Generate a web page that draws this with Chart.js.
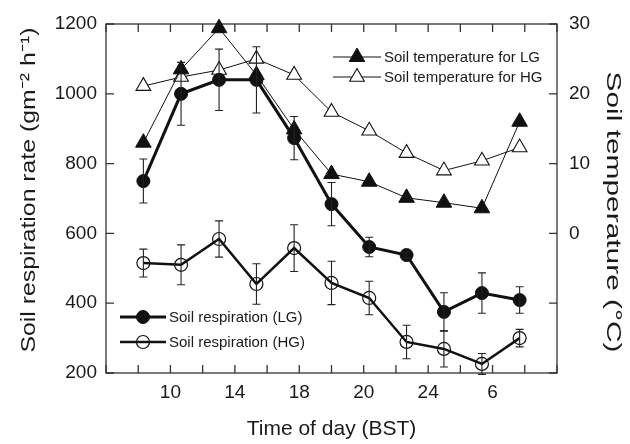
<!DOCTYPE html>
<html>
<head>
<meta charset="utf-8">
<script src="https://cdn.jsdelivr.net/npm/chart.js@4.4.1/dist/chart.umd.min.js"></script>
<style>
html, body { margin: 0; padding: 0; background: #fff; }
</style>
</head>
<body>
<canvas id="graph" width="630" height="444"></canvas>
<script>
// sampling times, in axis units (one unit = one minor tick)
const timePos = [1.16, 2.33, 3.51, 4.67, 5.84, 7.0, 8.17, 9.33, 10.49, 11.67, 12.84];
// labels of the bottom axis, one per minor tick
const xTickLabels = ['', '', '10', '', '14', '', '18', '', '20', '', '24', '', '6', '', ''];

// soil respiration (left axis) with +/- errors
const respLG = [750, 1000, 1040, 1040, 873, 684, 561, 538, 375, 429, 409];
const respLGErr = [63, 90, 88, 95, 62, 62, 28, 8, 55, 58, 38];
const respHG = [515, 510, 584, 455, 558, 458, 415, 289, 269, 226, 300];
const respHGErr = [40, 57, 52, 58, 67, 62, 48, 48, 52, 30, 25];

// soil temperature (right axis)
const tempLG = [13.0, 23.5, 29.4, 22.7, 14.9, 8.5, 7.4, 5.1, 4.4, 3.6, 16.0];
const tempHG = [21.1, 22.4, 23.4, 25.0, 22.7, 17.4, 14.7, 11.5, 9.0, 10.4, 12.3];

const FONT = '"Liberation Sans", Arial, Helvetica, sans-serif';
Chart.defaults.font.family = FONT;
Chart.defaults.color = '#1a1a1a';

function toPoints(ys) {
    return ys.map((y, i) => ({ x: timePos[i], y: y }));
}

// frame and inward ticks
const frameTicks = {
    id: 'frameTicks',
    beforeDatasetsDraw(chart) {
        const { ctx, chartArea: a, scales } = chart;
        const L = 8;
        ctx.save();
        ctx.strokeStyle = '#333';
        ctx.lineWidth = 1.3;
        ctx.strokeRect(a.left, a.top, a.right - a.left, a.bottom - a.top);
        ctx.beginPath();
        scales.x.ticks.forEach(t => {
            const px = scales.x.getPixelForValue(t.value);
            ctx.moveTo(px, a.bottom); ctx.lineTo(px, a.bottom - L);
            ctx.moveTo(px, a.top); ctx.lineTo(px, a.top + L);
        });
        scales.y.ticks.forEach(t => {
            const py = scales.y.getPixelForValue(t.value);
            ctx.moveTo(a.left, py); ctx.lineTo(a.left + L, py);
        });
        scales.y2.ticks.forEach(t => {
            const py = scales.y2.getPixelForValue(t.value);
            ctx.moveTo(a.right, py); ctx.lineTo(a.right - L, py);
        });
        ctx.stroke();
        ctx.restore();
    }
};

// error bars
const errorBars = {
    id: 'errorBars',
    afterDatasetsDraw(chart) {
        const { ctx } = chart;
        ctx.save();
        ctx.strokeStyle = '#222';
        ctx.lineWidth = 1.1;
        chart.data.datasets.forEach(ds => {
            if (!ds.errors) return;
            const ys = chart.scales[ds.yAxisID];
            ds.data.forEach((p, i) => {
                const px = chart.scales.x.getPixelForValue(p.x);
                const top = ys.getPixelForValue(p.y + ds.errors[i]);
                const bot = ys.getPixelForValue(p.y - ds.errors[i]);
                ctx.beginPath();
                ctx.moveTo(px, top); ctx.lineTo(px, bot);
                ctx.moveTo(px - 4, top); ctx.lineTo(px + 4, top);
                ctx.moveTo(px - 4, bot); ctx.lineTo(px + 4, bot);
                ctx.stroke();
            });
        });
        ctx.restore();
    }
};

// the two vertical axis titles, drawn a bit elongated like the original
function drawAxisTitle(ctx, text, baseX, centerY, rot, length) {
    ctx.save();
    ctx.font = '21px ' + FONT;
    const w = ctx.measureText(text).width;
    ctx.translate(baseX, centerY);
    ctx.rotate(rot);
    ctx.scale(length / w, 1);
    ctx.textAlign = 'center';
    ctx.textBaseline = 'alphabetic';
    ctx.fillStyle = '#1a1a1a';
    ctx.fillText(text, 0, 0);
    ctx.restore();
}

const yTitles = {
    id: 'yTitles',
    afterDraw(chart) {
        drawAxisTitle(chart.ctx, 'Soil respiration rate (gm⁻² h⁻¹)', 35, 190, -Math.PI / 2, 325);
        drawAxisTitle(chart.ctx, 'Soil temperature (°C)', 607, 212, Math.PI / 2, 281);
    }
};

// two legends inside the plot
const insideLegends = {
    id: 'insideLegends',
    afterDraw(chart) {
        const { ctx } = chart;
        const ds = chart.data.datasets;
        const items = [
            { d: ds[2], x: 333, y: 57, len: 48 },
            { d: ds[3], x: 333, y: 77, len: 48 },
            { d: ds[0], x: 120, y: 317, len: 46 },
            { d: ds[1], x: 120, y: 342, len: 46 }
        ];
        ctx.save();
        items.forEach(it => {
            const d = it.d;
            ctx.strokeStyle = d.borderColor;
            ctx.lineWidth = d.borderWidth;
            ctx.beginPath();
            ctx.moveTo(it.x, it.y); ctx.lineTo(it.x + it.len, it.y);
            ctx.stroke();
            ctx.fillStyle = d.pointBackgroundColor;
            ctx.strokeStyle = d.pointBorderColor;
            ctx.lineWidth = d.pointBorderWidth;
            Chart.helpers.drawPoint(ctx, {
                pointStyle: d.pointStyle, radius: d.pointRadius, rotation: 0, borderWidth: d.pointBorderWidth
            }, it.x + it.len / 2, it.y);
            ctx.fillStyle = '#1a1a1a';
            ctx.font = '15px ' + FONT;
            ctx.textBaseline = 'middle';
            ctx.textAlign = 'left';
            ctx.fillText(d.label, it.x + it.len + 3, it.y + 1);
        });
        ctx.restore();
    }
};

const ctx = document.getElementById('graph').getContext('2d');

const data = {
    datasets: [
        {
            label: 'Soil respiration (LG)',
            data: toPoints(respLG),
            errors: respLGErr,
            yAxisID: 'y',
            borderColor: '#111',
            borderWidth: 3,
            pointStyle: 'circle',
            pointRadius: 6.5,
            pointBackgroundColor: '#111',
            pointBorderColor: '#111',
            pointBorderWidth: 1
        },
        {
            label: 'Soil respiration (HG)',
            data: toPoints(respHG),
            errors: respHGErr,
            yAxisID: 'y',
            borderColor: '#111',
            borderWidth: 2.5,
            pointStyle: 'circle',
            pointRadius: 6.5,
            pointBackgroundColor: 'rgba(255,255,255,0)',
            pointBorderColor: '#111',
            pointBorderWidth: 1.2
        },
        {
            label: 'Soil temperature for LG',
            data: toPoints(tempLG),
            yAxisID: 'y2',
            borderColor: '#111',
            borderWidth: 1,
            pointStyle: 'triangle',
            pointRadius: 9,
            pointBackgroundColor: '#111',
            pointBorderColor: '#111',
            pointBorderWidth: 1
        },
        {
            label: 'Soil temperature for HG',
            data: toPoints(tempHG),
            yAxisID: 'y2',
            borderColor: '#111',
            borderWidth: 1,
            pointStyle: 'triangle',
            pointRadius: 8.5,
            pointBackgroundColor: '#fff',
            pointBorderColor: '#111',
            pointBorderWidth: 1.1
        }
    ]
};

const config = {
    type: 'line',
    data: data,
    options: {
        responsive: false,
        animation: false,
        events: [],
        layout: { padding: { top: 24, left: 0, right: 0, bottom: 0 } },
        elements: { line: { tension: 0 } },
        datasets: { line: { clip: false } },
        plugins: { legend: { display: false }, tooltip: { enabled: false } },
        scales: {
            x: {
                type: 'linear',
                position: 'bottom',
                min: 0,
                max: 14,
                afterFit: s => { s.height = 71; },
                grid: { display: false, drawTicks: false },
                border: { display: false },
                ticks: {
                    stepSize: 1,
                    autoSkip: false,
                    maxRotation: 0,
                    padding: 8,
                    font: { size: 19 },
                    callback: v => xTickLabels[v] || ''
                },
                title: {
                    display: true,
                    text: 'Time of day (BST)',
                    font: { size: 21 },
                    padding: { top: 0, bottom: 2 }
                }
            },
            y: {
                position: 'left',
                min: 200,
                max: 1200,
                afterFit: s => { s.width = 106; },
                grid: { display: false, drawTicks: false },
                border: { display: false },
                ticks: { stepSize: 200, padding: 9, font: { size: 19 }, callback: v => String(v) }
            },
            y2: {
                position: 'right',
                min: -20,
                max: 30,
                afterFit: s => { s.width = 73; },
                grid: { display: false, drawTicks: false },
                border: { display: false },
                ticks: {
                    stepSize: 10,
                    padding: 12,
                    font: { size: 19 },
                    callback: v => (v >= 0 ? String(v) : '')
                }
            }
        }
    },
    plugins: [frameTicks, errorBars, yTitles, insideLegends]
};

const myChart = new Chart(ctx, config);
</script>
</body>
</html>
